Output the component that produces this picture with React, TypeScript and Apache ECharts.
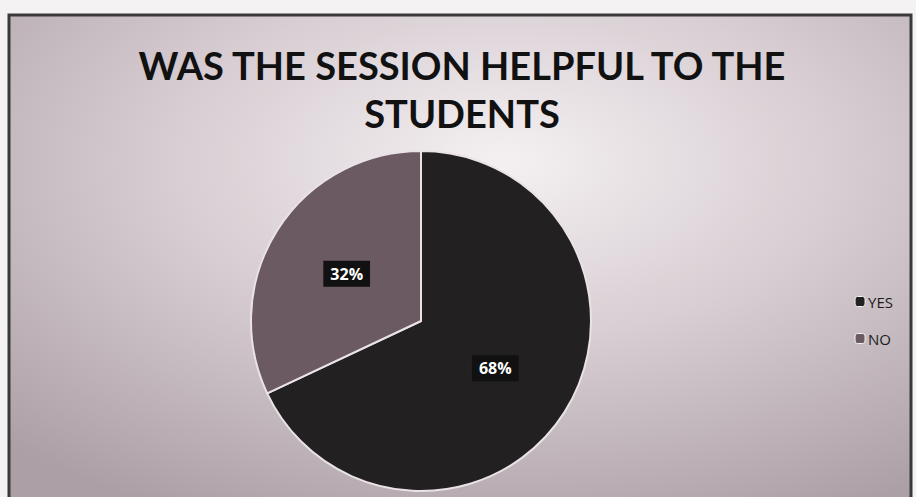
import React, { useEffect, useRef } from "react";
import * as echarts from "echarts";

const categories = ["YES", "NO"];
const values = [68, 32];
const titleLines = ["WAS THE SESSION HELPFUL TO THE", "STUDENTS"];

export default function App() {
  const ref = useRef<HTMLDivElement>(null);
  useEffect(() => {
    const chart = echarts.init(ref.current!, null, { renderer: "svg" });
    const colors = ["#232022", "#6b5a62"];
    chart.setOption({
      animation: false,
      backgroundColor: "#f4f2f3",
      graphic: [
        {
          type: "rect",
          shape: { x: 9, y: 15, width: 902, height: 490 },
          style: {
            fill: new echarts.graphic.RadialGradient(0.55, 0.3, 0.8, [
              { offset: 0, color: "#f4f0f2" },
              { offset: 0.45, color: "#d8ced3" },
              { offset: 1, color: "#aca0a6" },
            ]),
            stroke: "#3a3a3a",
            lineWidth: 3,
          },
          z: -10,
        },
      ],
      title: {
        text: titleLines.join("\n"),
        left: 457,
        textAlign: "center",
        top: 36,
        textStyle: {
          fontFamily: "Lato",
          fontWeight: "bold",
          fontSize: 38,
          lineHeight: 48,
          color: "#111",
        },
      },
      legend: {
        orient: "vertical",
        right: 18,
        top: 289,
        itemWidth: 10,
        itemHeight: 10,
        itemGap: 22,
        data: categories,
        itemStyle: { borderColor: "#f2f2f2", borderWidth: 1 },
        textStyle: { fontFamily: "Open Sans", fontSize: 15, color: "#1c1c1c", padding: [0, 0, 0, -2] },
      },
      series: [
        {
          type: "pie",
          center: [421, 321],
          radius: 170,
          startAngle: 90,
          clockwise: true,
          data: categories.map((c, i) => ({
            name: c,
            value: values[i],
            itemStyle: { color: colors[i] },
          })),
          itemStyle: { borderColor: "#e9e2e6", borderWidth: 2 },
          label: {
            position: "inside",
            formatter: "{c}%",
            fontFamily: "Open Sans",
            fontWeight: "bold",
            fontSize: 16,
            color: "#fff",
            backgroundColor: "#111",
            padding: [5, 7],
          },
          labelLine: { show: false },
          emphasis: { disabled: true },
        },
      ],
    });
    return () => chart.dispose();
  }, []);
  return (
    <div
      ref={ref}
      style={{ position: "fixed", left: 0, top: 0, width: 916, height: 497 }}
    />
  );
}
